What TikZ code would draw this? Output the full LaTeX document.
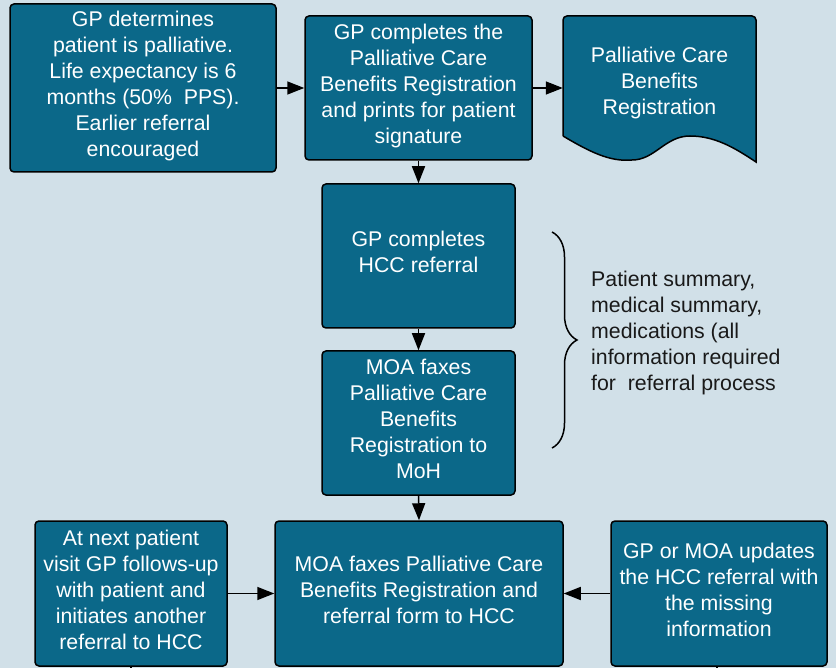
\documentclass[tikz,border=0pt]{standalone}
\usepackage{fontspec}
\setmainfont{Liberation Sans}
\usetikzlibrary{arrows.meta,decorations.pathreplacing}

\definecolor{boxfill}{RGB}{11,104,137}
\definecolor{bgblue}{RGB}{209,224,232}

\tikzset{
  proc/.style={draw=black, line width=1.5pt, rounded corners=4pt, fill=boxfill,
    text=white, align=center, inner sep=0pt, text depth=8pt,
    font=\fontsize{21.3}{26}\selectfont},
  flow/.style={line width=1.5pt, -{Triangle[length=17pt,width=13pt]}},
}

\begin{document}
\begin{tikzpicture}[x=1pt,y=-1pt]
  \fill[bgblue] (0,0) rectangle (836,668);
  \useasboundingbox (0,0) rectangle (836,668);

  % top row
  \node[proc, minimum width=266, minimum height=168] (determine) at (143,88)
    {GP determines\\patient is palliative.\\Life expectancy is 6\\months (50\%\ \ PPS).\\Earlier referral\\encouraged};
  \node[proc, minimum width=227, minimum height=144] (complete) at (418.5,88)
    {GP completes the\\Palliative Care\\Benefits Registration\\and prints for patient\\signature};

  % document shape
  \draw[line width=1.5pt, fill=boxfill] (563,136) [rounded corners=4pt] -- (563,16) -- (756,16)
    [sharp corners] -- (756,162)
    .. controls (735,148) and (715,136) .. (690,136)
    .. controls (665,136) and (655,160) .. (632,160)
    .. controls (610,162) and (590,152) .. (563,136);
  \node[text=white, align=center, inner sep=0pt, minimum width=193, minimum height=136,
    font=\fontsize{21.3}{26}\selectfont] (regdoc) at (659.5,83)
    {Palliative Care\\Benefits\\Registration};

  % middle column
  \node[proc, minimum width=193, minimum height=144] (referral) at (418.5,256)
    {GP completes\\HCC referral};
  \node[proc, minimum width=193, minimum height=144] (faxmoh) at (418.5,423)
    {MOA faxes\\Palliative Care\\Benefits\\Registration to\\MoH};

  % bottom row
  \node[proc, minimum width=288, minimum height=145] (faxhcc) at (419,593.5)
    {MOA faxes Palliative Care\\Benefits Registration and\\referral form to HCC};
  \node[proc, minimum width=192, minimum height=145] (visit) at (131,593.5)
    {At next patient\\visit GP follows-up\\with patient and\\initiates another\\referral to HCC};
  \node[proc, minimum width=216, minimum height=145] (update) at (719,593.5)
    {GP or MOA updates\\the HCC referral with\\the missing\\information};

  % brace note
  \draw[line width=1.5pt, decorate, decoration={brace, amplitude=25pt}] (552,232) -- (552,448);
  \node[anchor=west, align=left, inner sep=0pt, text=black!90,
    font=\fontsize{21.3}{26}\selectfont] (info) at (591,333)
    {Patient summary,\\medical summary,\\medications (all\\information required\\for\ \ referral process};

  % connectors
  \coordinate (visitend) at (131,670);
  \coordinate (updateend) at (717,670);

  \draw[flow] (determine.east) -- (complete.west);
  \draw[flow] (complete.east) -- (complete.east -| regdoc.west);
  \draw[flow] (complete.south) -- (referral.north);
  \draw[flow] (referral.south) -- (faxmoh.north);
  \draw[flow] (faxmoh.south) -- (faxhcc.north);
  \draw[flow] (visit.east) -- (faxhcc.west);
  \draw[flow] (update.west) -- (faxhcc.east);
  \draw[line width=1.5pt] (visit.south) -- (visitend);
  \draw[line width=1.5pt] (update.south -| updateend) -- (updateend);
\end{tikzpicture}
\end{document}
